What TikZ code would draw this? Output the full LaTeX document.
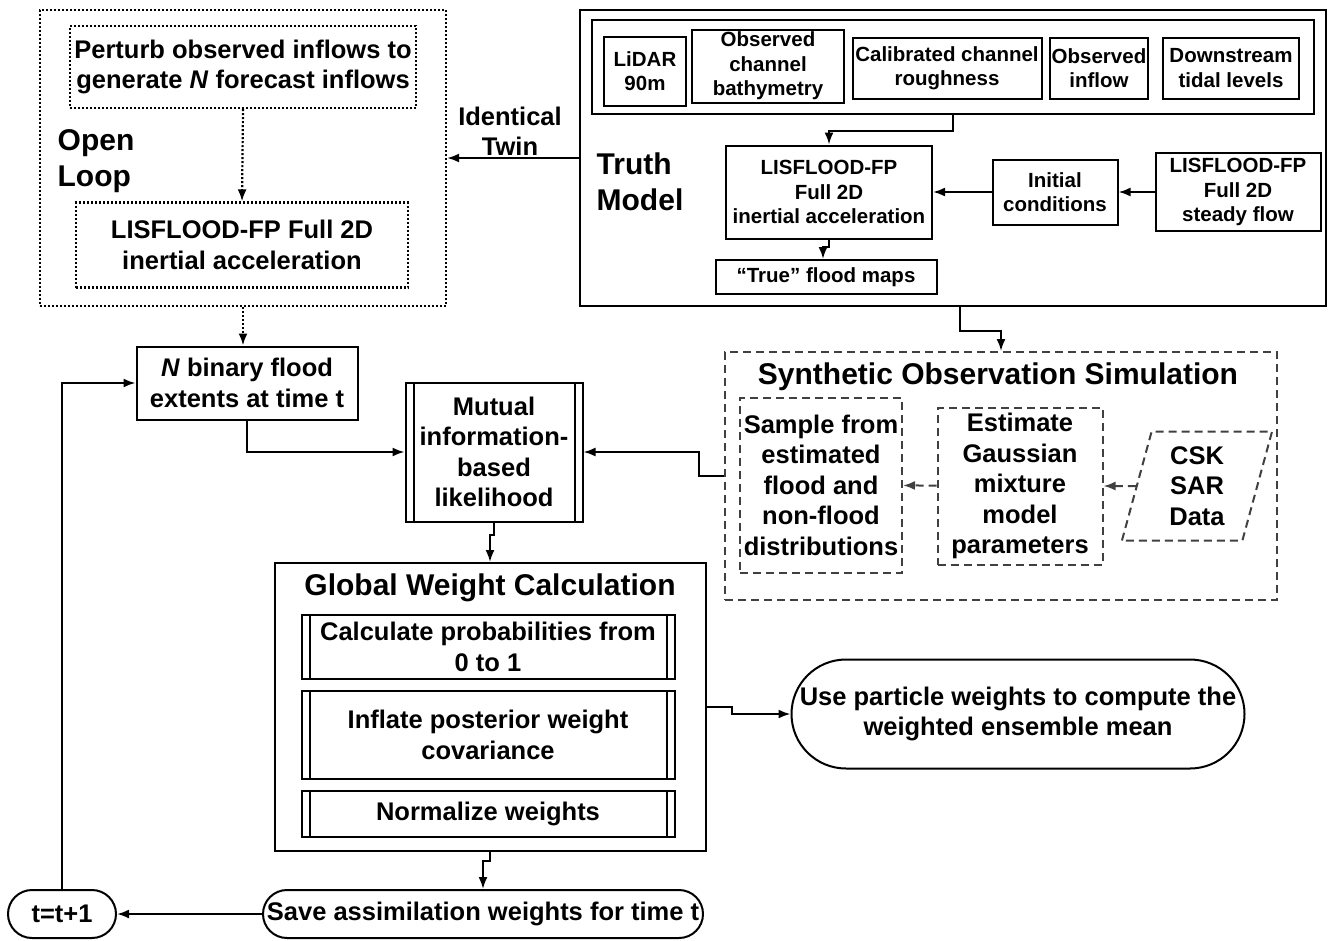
\documentclass[tikz,border=0pt]{standalone}
\usepackage{fontspec}
\setmainfont{Liberation Sans}
\usetikzlibrary{arrows.meta,shapes.misc,shapes.geometric}
\definecolor{dashgray}{RGB}{64,64,64}
\tikzset{
  box/.style={draw, line width=2pt, align=center, inner sep=1pt, font=\fontsize{20.5}{24.5}\selectfont\bfseries},
  bigbox/.style={box, font=\fontsize{25.5}{30.5}\selectfont\bfseries},
  dotbox/.style={bigbox, dotted, line width=2.2pt},
  dashbox/.style={bigbox, draw=dashgray, dash pattern=on 8pt off 5pt},
  procbox/.style={bigbox, path picture={
      \draw[line width=2pt] ([xshift=8pt]path picture bounding box.north west) -- ([xshift=8pt]path picture bounding box.south west);
      \draw[line width=2pt] ([xshift=-8pt]path picture bounding box.north east) -- ([xshift=-8pt]path picture bounding box.south east);}},
  pill/.style={bigbox, rounded rectangle},
  title/.style={align=left, font=\fontsize{30}{36}\selectfont\bfseries},
  heading/.style={font=\fontsize{30}{36}\selectfont\bfseries},
  arr/.style={line width=2pt, -{Latex[length=12pt,width=9pt]}},
  dotarr/.style={arr, dotted, line width=2.2pt},
  dasharr/.style={arr, draw=dashgray, dash pattern=on 8pt off 5pt}
}
\begin{document}
\begin{tikzpicture}[x=1pt,y=-1pt]
\useasboundingbox (0,0) rectangle (1336,940);
% open loop
\node[dotbox, minimum width=406, minimum height=296] (openloop) at (243,158) {};
\node[dotbox, minimum width=346, minimum height=82] (perturb) at (243,67) {Perturb observed inflows to\\generate \textit{N} forecast inflows};
\node[dotbox, minimum width=332, minimum height=85] (openlis) at (242,245) {LISFLOOD-FP Full 2D\\inertial acceleration};
\node[title] (oltext) at (96,161) {Open\\Loop};
\node[align=center, font=\fontsize{25.5}{30}\selectfont\bfseries] (twin) at (510,131) {Identical\\Twin};
% truth model
\node[box, line width=2.6pt, minimum width=746, minimum height=296] (truth) at (953,158) {};
\node[box, line width=2.6pt, minimum width=722, minimum height=94] (inputs) at (953,67) {};
\node[box, minimum width=82, minimum height=69] (lidar) at (645,71) {LiDAR\\90m};
\node[box, minimum width=152, minimum height=73] (bathy) at (768,66) {Observed\\channel\\bathymetry};
\node[box, minimum width=189, minimum height=61] (rough) at (947,68) {Calibrated channel\\roughness};
\node[box, minimum width=98, minimum height=61] (inflow) at (1099,68) {Observed\\inflow};
\node[box, minimum width=136, minimum height=61] (tidal) at (1231,68) {Downstream\\tidal levels};
\node[box, minimum width=206, minimum height=93] (truthlis) at (829,192) {LISFLOOD-FP\\Full 2D\\inertial acceleration};
\node[box, minimum width=125, minimum height=65] (init) at (1055,192) {Initial\\conditions};
\node[box, minimum width=165, minimum height=78] (steady) at (1238,192) {LISFLOOD-FP\\Full 2D\\steady flow};
\node[box, minimum width=221, minimum height=34] (maps) at (826,277) {``True'' flood maps};
\node[title] (tmtext) at (640,182) {Truth\\Model};
% synthetic observations
\node[dashbox, minimum width=552, minimum height=248] (synth) at (1001,476) {};
\node[heading] (synthtitle) at (998,377) {Synthetic Observation Simulation};
\node[dashbox, minimum width=162, minimum height=175] (sample) at (821,485) {Sample from\\estimated\\flood and\\non-flood\\distributions};
\node[dashbox, minimum width=165, minimum height=157] (estimate) at (1020,486) {Estimate\\Gaussian\\mixture\\model\\parameters};
\node[dashbox, trapezium, trapezium left angle=77, trapezium right angle=103, trapezium stretches=true, minimum width=151, minimum height=109] (csk) at (1197,486) {CSK\\SAR\\Data};
% weights
\node[bigbox, minimum width=221, minimum height=73] (nbox) at (247,383) {\textit{N} binary flood\\extents at time t};
\node[procbox, minimum width=177, minimum height=139] (mutual) at (494,452) {Mutual\\information-\\based\\likelihood};
\node[box, minimum width=431, minimum height=288] (global) at (490,707) {};
\node[heading] (globaltitle) at (490,588) {Global Weight Calculation};
\node[procbox, minimum width=373, minimum height=64] (calc) at (488,647) {Calculate probabilities from\\0 to 1};
\node[procbox, minimum width=373, minimum height=88] (inflate) at (488,735) {Inflate posterior weight\\covariance};
\node[procbox, minimum width=373, minimum height=46] (normal) at (488,814) {Normalize weights};
\node[pill, minimum width=455, minimum height=109] (use) at (1018,714) {Use particle weights to compute the\\weighted ensemble mean};
\node[pill, inner xsep=0pt, minimum width=440, minimum height=48] (save) at (483,914) {Save assimilation weights for time t};
\node[pill, minimum width=110, minimum height=48] (tt) at (62,914) {t=t+1};
% connectors
\draw[dotarr] (perturb.south) -- (openlis.north);
\draw[arr] (truth.west) -- (openloop.east);
\draw[arr] (inputs.south) -- ++(0,16) -| (truthlis.north);
\draw[arr] (steady) -- (init);
\draw[arr] (init) -- (truthlis);
\draw[arr] (truthlis.south) -- ++(0,7) -| ([xshift=-3pt]maps.north);
\draw[arr] ([xshift=7pt]truth.south) -- ++(0,24) -| (synth.north);
\draw[dotarr] (openloop.south) -- (openloop.south |- nbox.north);
\draw[arr] (nbox.south) |- (mutual.west);
\draw[arr] (synth.west) -- ++(-25,0) |- (mutual.east);
\draw[dasharr] (csk) -- (estimate);
\draw[dasharr] (estimate) -- (sample);
\draw[arr] (mutual.south) -- ++(0,12) -| (global.north);
\draw[arr] (global.east) -- ++(25,0) |- (use.west);
\draw[arr] (global.south) -- ++(0,9) -| (save.north);
\draw[arr] (save.west) -- (tt.east);
\draw[arr] (tt.north) |- (nbox.west);
\end{tikzpicture}
\end{document}
